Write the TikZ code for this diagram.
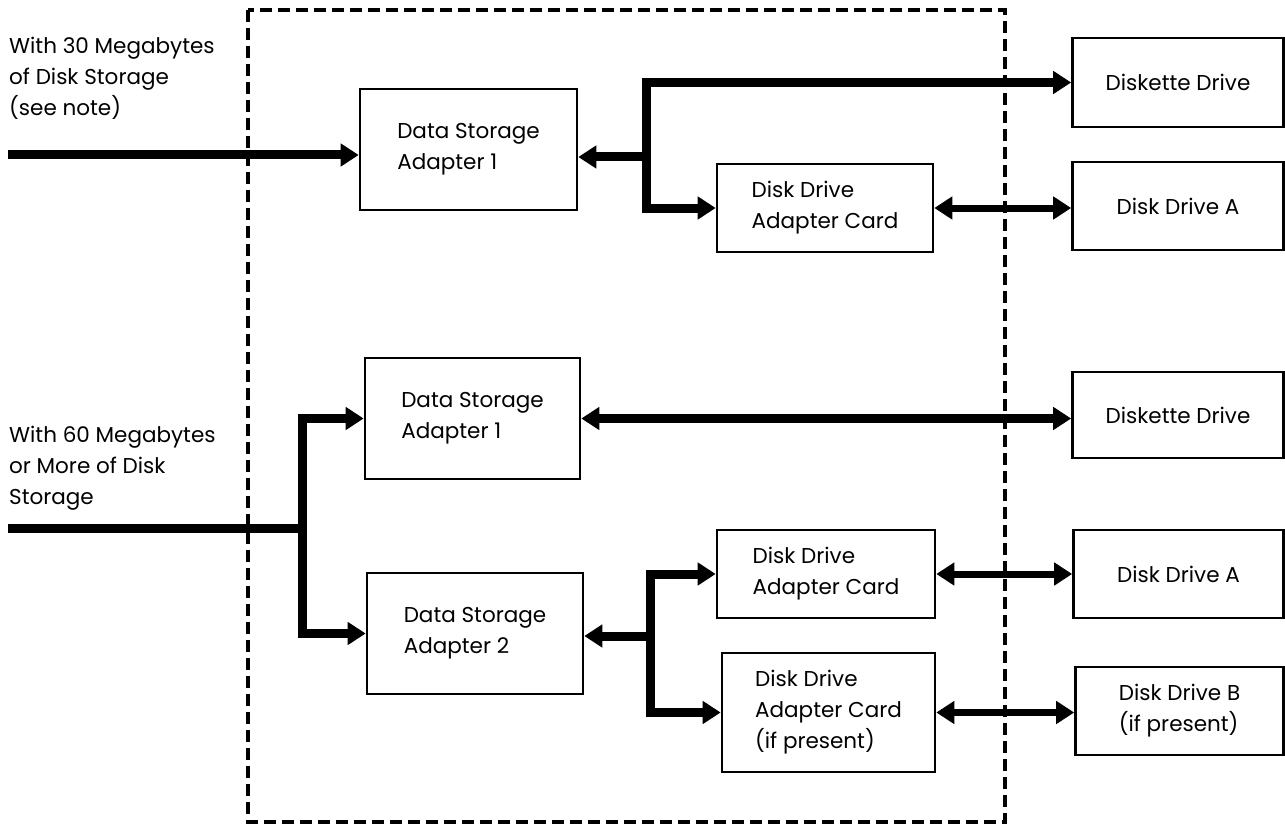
\documentclass[tikz,border=0pt]{standalone}
\usepackage{fontspec}
\setmainfont{Poppins}
\usetikzlibrary{arrows.meta}
\begin{document}
\begin{tikzpicture}[x=1pt,y=-1pt,
  txt/.style={align=left, inner sep=0pt, font=\fontsize{21.5}{31}\selectfont},
  box/.style={txt, draw, line width=2.6pt},
  bus/.style={line width=9pt, line join=miter},
  link/.style={line width=7pt},
  frame/.style={line width=4pt, dash pattern=on 12pt off 6pt},
  >={Triangle[length=18pt,width=22pt]}
]
\useasboundingbox (0,0) rectangle (1285,832);

% system unit boundary
\draw[frame] (248,10) rectangle (1005,822);

% configuration labels
\node[txt, anchor=west] (cfg30) at (9,78) {With 30 Megabytes\\of Disk Storage\\(see note)};
\node[txt, anchor=west] (cfg60) at (9,468) {With 60 Megabytes\\or More of Disk\\Storage};

% 30 MB configuration
\node[box, minimum width=217pt, minimum height=121pt] (dsa1) at (468.5,149.5) {Data Storage\\Adapter 1};
\node[box, minimum width=216pt, minimum height=88pt] (ddac1) at (825,208) {Disk Drive\\Adapter Card};
\node[box, minimum width=211pt, minimum height=89pt] (dk1) at (1178,82.5) {Diskette Drive};
\node[box, minimum width=211pt, minimum height=88pt] (dda1) at (1178,206) {Disk Drive A};

% 60 MB configuration
\node[box, minimum width=215pt, minimum height=121pt] (dsa1b) at (472.5,418.5) {Data Storage\\Adapter 1};
\node[box, minimum width=211pt, minimum height=86pt] (dk2) at (1178,415) {Diskette Drive};
\node[box, minimum width=216pt, minimum height=121pt] (dsa2) at (475,633.5) {Data Storage\\Adapter 2};
\node[box, minimum width=218pt, minimum height=88pt] (ddac2) at (826,574) {Disk Drive\\Adapter Card};
\node[box, minimum width=213pt, minimum height=119pt] (ddac3) at (828.5,712.5) {Disk Drive\\Adapter Card\\(if present)};
\node[box, minimum width=210pt, minimum height=88pt] (dda2) at (1178.5,574) {Disk Drive A};
\node[box, minimum width=208pt, minimum height=88pt] (ddb) at (1179.5,711) {Disk Drive B\\(if present)};

% junction points of the buses
\coordinate (in1) at (8,155);
\coordinate (j1) at (646,157);
\coordinate (in2) at (8,528);
\coordinate (j2) at (302,528);
\coordinate (j3) at (650,636);

% 30 MB buses
\draw[bus,->] (in1) -- (in1 -| dsa1.west);
\draw[bus,->] (j1) -- (j1 -| dsa1.east);
\draw[bus,->] (j1) |- (dk1.west);
\draw[bus,->] (j1) |- (ddac1.west);
\draw[link,<->] (ddac1.east) -- (ddac1.east -| dda1.west);

% 60 MB buses
\draw[bus] (in2) -- ([xshift=4pt]j2);
\draw[bus,->] (j2) |- (dsa1b.west);
\draw[bus,->] (j2) |- (dsa2.west);
\draw[bus,<->] (dsa1b.east) -- (dsa1b.east -| dk2.west);
\draw[bus,->] (j3) -- (j3 -| dsa2.east);
\draw[bus,->] (j3) |- (ddac2.west);
\draw[bus,->] (j3) |- (ddac3.west);
\draw[link,<->] (ddac2.east) -- (ddac2.east -| dda2.west);
\draw[link,<->] (ddac3.east) -- (ddac3.east -| ddb.west);
\end{tikzpicture}
\end{document}
